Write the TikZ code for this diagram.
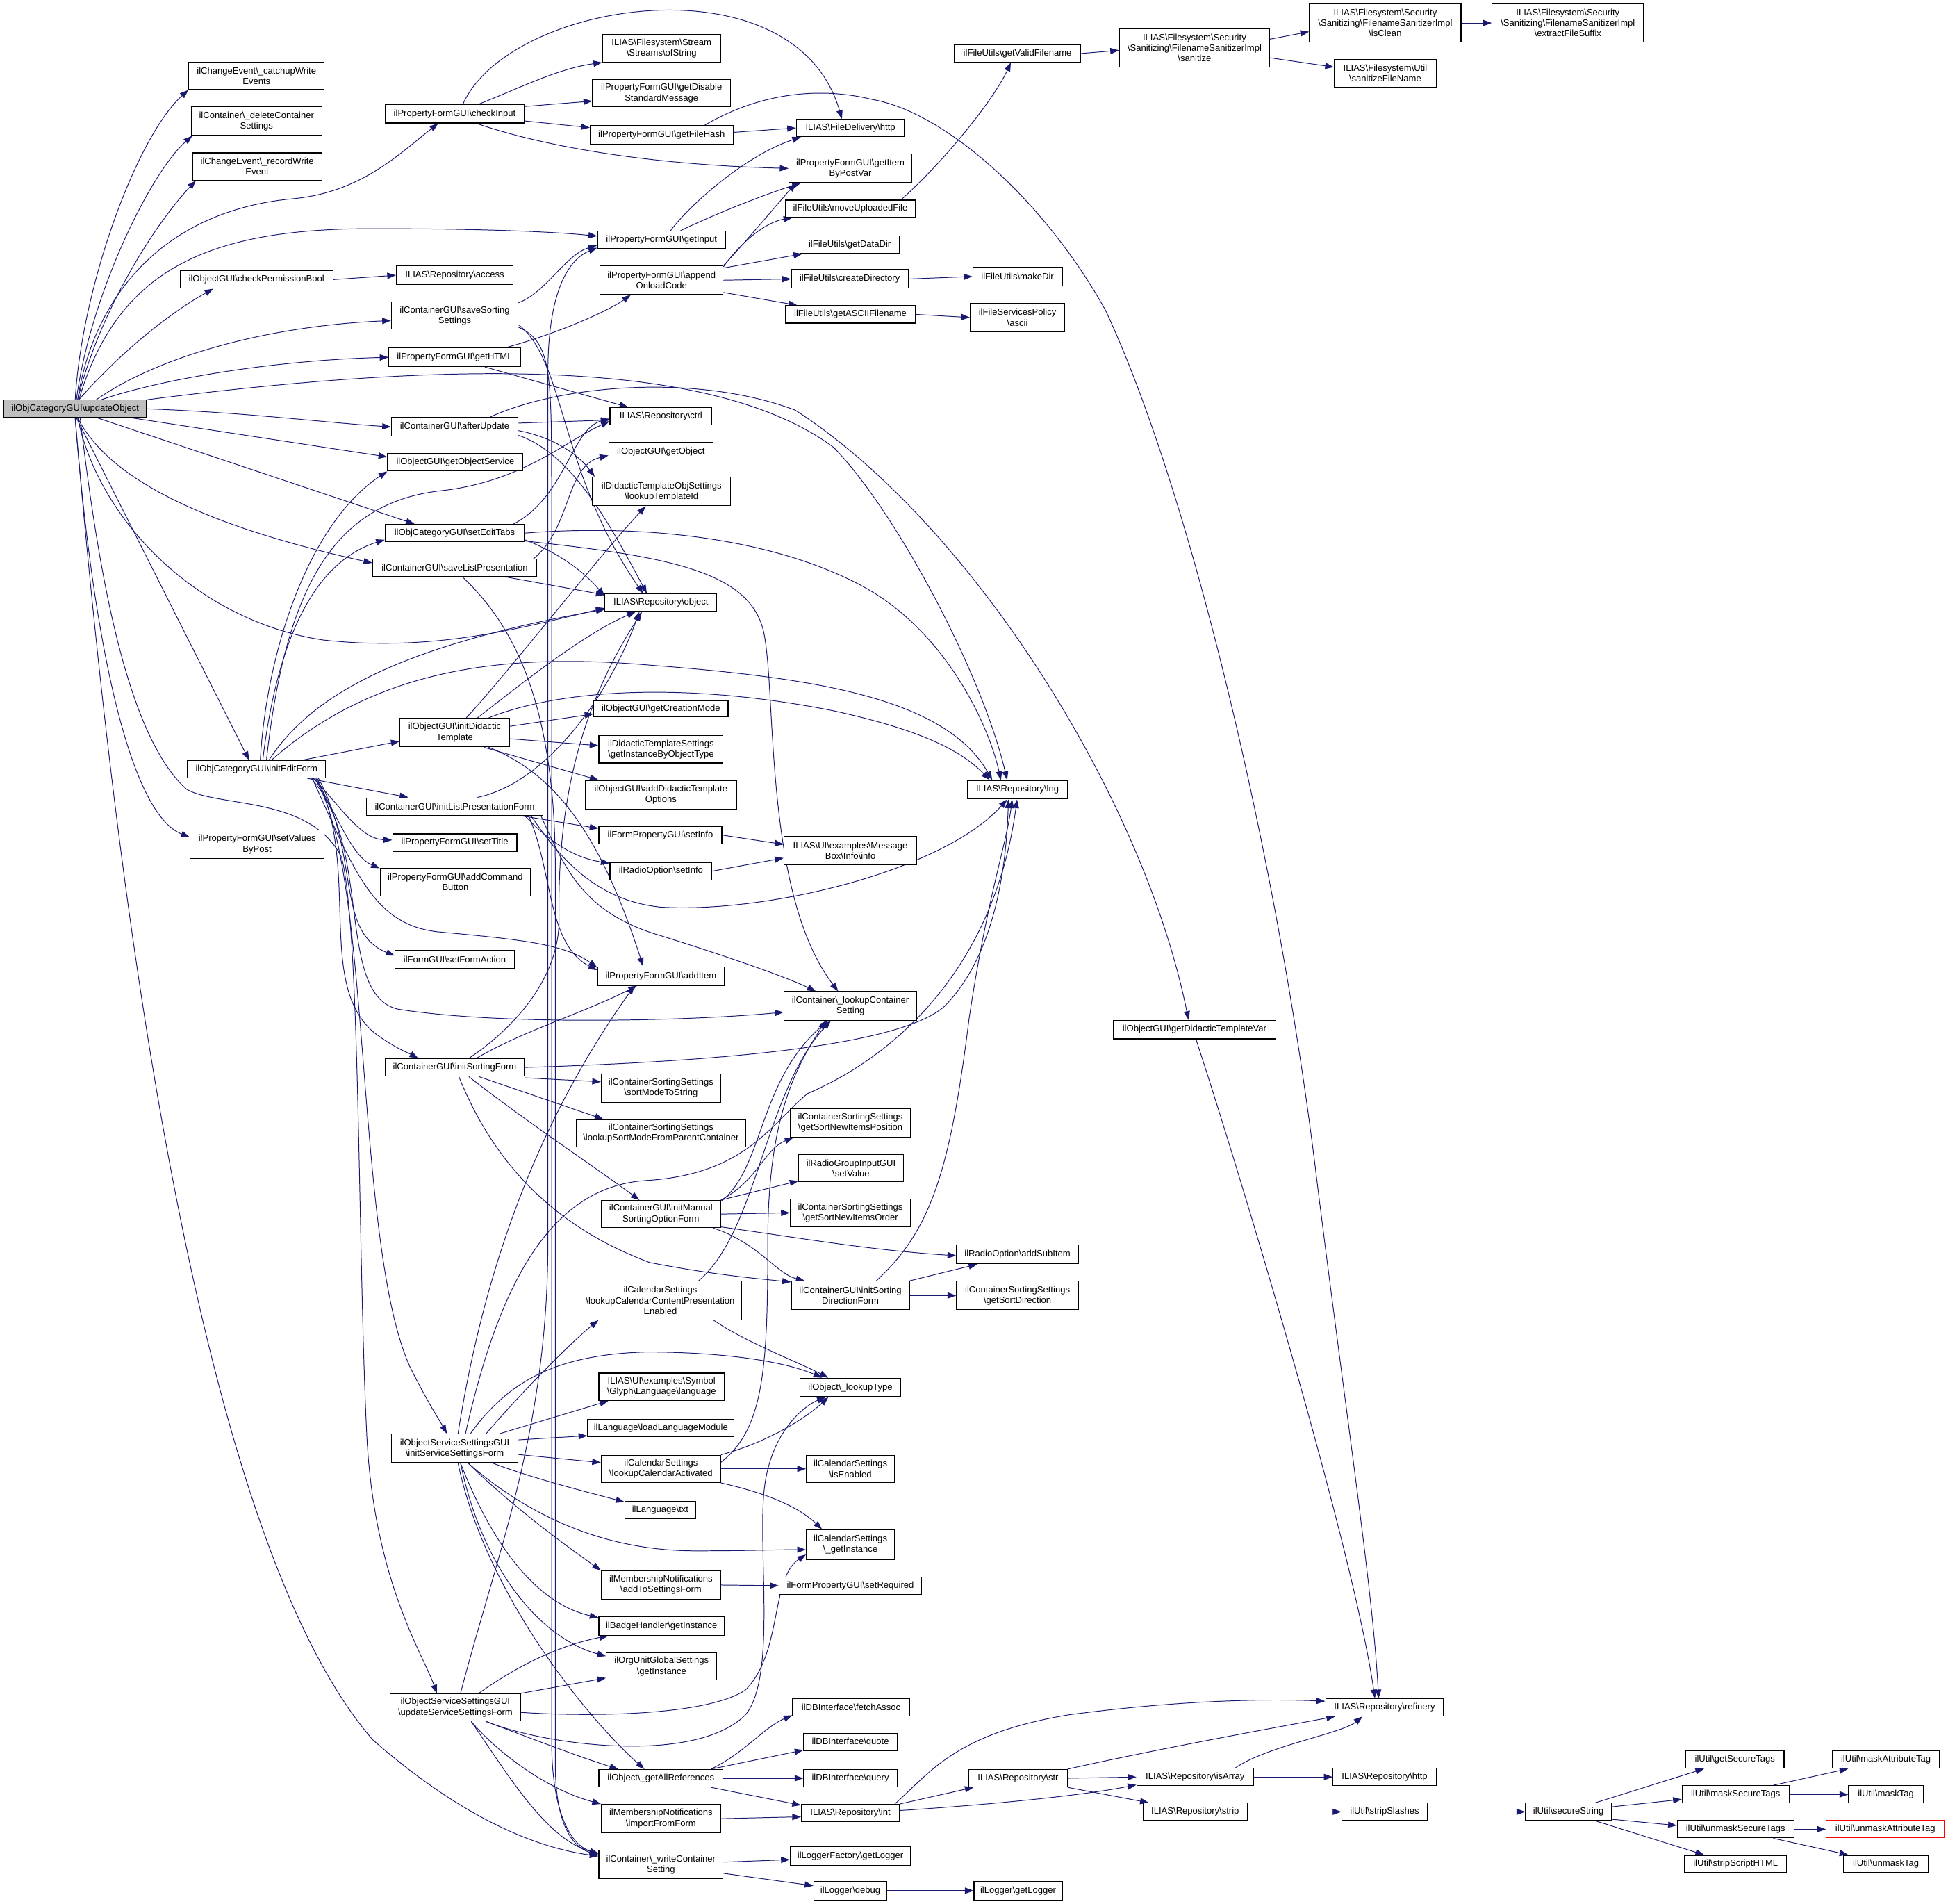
\documentclass[tikz,border=0pt]{standalone}
\usepackage{fontspec}
\setmainfont{Liberation Sans}
\usetikzlibrary{arrows.meta}
\definecolor{edgec}{RGB}{25,25,112}
\definecolor{rootfill}{RGB}{191,191,191}
\newcommand{\bs}{\textbackslash}
\newcommand{\bx}[7][]{\node[nb,#1,minimum width={(#5-#3)*1pt},minimum height={(#6-#4)*1pt}] (#2) at ({(#3+#5)/2},{(#4+#6)/2}) {#7};}
\pgfdeclarelayer{back}
\pgfdeclarelayer{bg}
\pgfsetlayers{back,bg,main}
\tikzset{
 nb/.style={draw=black,line width=0.65pt,fill=white,inner sep=0pt,align=center,font=\fontsize{7.3}{8.5}\selectfont},
 rootnode/.style={fill=rootfill},
 redb/.style={draw={rgb,255:red,255;green,0;blue,0}},
 e/.style={draw=edgec,line width=0.55pt,-{Triangle[length=7pt,width=5pt]}}
}
\begin{document}
\begin{tikzpicture}[x=1pt,y=-1pt]
\begin{pgfonlayer}{back}
\fill[white] (0,0) rectangle (1568,1532);
\end{pgfonlayer}
\useasboundingbox (0,0) rectangle (1568,1532);
% column 1-3
\bx[rootnode]{U}{3}{322}{118}{336}{ilObjCategoryGUI\bs updateObject}
\bx{catchup}{152}{50}{261}{72}{ilChangeEvent\bs\_catchupWrite\\Events}
\bx{deleteCS}{154}{86}{259}{109}{ilContainer\bs\_deleteContainer\\Settings}
\bx{recordWE}{155}{123}{259}{145}{ilChangeEvent\bs\_recordWrite\\Event}
\bx{checkPermBool}{145}{218}{268}{232}{ilObjectGUI\bs checkPermissionBool}
\bx{IEF}{151}{612}{262}{626}{ilObjCategoryGUI\bs initEditForm}
\bx{setValuesByPost}{153}{668}{261}{691}{ilPropertyFormGUI\bs setValues\\ByPost}
\bx{checkInput}{310}{84}{422}{99}{ilPropertyFormGUI\bs checkInput}
\bx{access}{319}{214}{413}{229}{ILIAS\bs Repository\bs access}
\bx{saveSorting}{315}{243}{417}{265}{ilContainerGUI\bs saveSorting\\Settings}
\bx{getHTML}{313}{280}{419}{295}{ilPropertyFormGUI\bs getHTML}
\bx{afterUpdate}{315}{336}{417}{351}{ilContainerGUI\bs afterUpdate}
\bx{getObjService}{312}{365}{421}{379}{ilObjectGUI\bs getObjectService}
\bx{setEditTabs}{310}{422}{422}{436}{ilObjCategoryGUI\bs setEditTabs}
\bx{saveListPres}{300}{450}{432}{464}{ilContainerGUI\bs saveListPresentation}
\bx{initDidactic}{322}{578}{410}{601}{ilObjectGUI\bs initDidactic\\Template}
\bx{ILPF}{295}{642}{437}{656}{ilContainerGUI\bs initListPresentationForm}
\bx{setTitle}{316}{671}{416}{685}{ilPropertyFormGUI\bs setTitle}
\bx{addCommandButton}{306}{699}{427}{721}{ilPropertyFormGUI\bs addCommand\\Button}
\bx{setFormAction}{318}{765}{414}{779}{ilFormGUI\bs setFormAction}
\bx{ISF}{310}{852}{422}{866}{ilContainerGUI\bs initSortingForm}
\bx{ISSF}{315}{1154}{417}{1177}{ilObjectServiceSettingsGUI\\\bs initServiceSettingsForm}
\bx{USSF}{314}{1363}{419}{1385}{ilObjectServiceSettingsGUI\\\bs updateServiceSettingsForm}
% column 4
\bx{ofString}{485}{28}{580}{50}{ILIAS\bs Filesystem\bs Stream\\\bs Streams\bs ofString}
\bx{getDisable}{477}{64}{588}{86}{ilPropertyFormGUI\bs getDisable\\StandardMessage}
\bx{getFileHash}{475}{101}{590}{116}{ilPropertyFormGUI\bs getFileHash}
\bx{getInput}{481}{186}{584}{200}{ilPropertyFormGUI\bs getInput}
\bx{appendOnload}{483}{214}{582}{237}{ilPropertyFormGUI\bs append\\OnloadCode}
\bx{ctrl}{491}{328}{573}{342}{ILIAS\bs Repository\bs ctrl}
\bx{getObject}{490}{356}{574}{371}{ilObjectGUI\bs getObject}
\bx{lookupTemplateId}{477}{384}{588}{407}{ilDidacticTemplateObjSettings\\\bs lookupTemplateId}
\bx{object}{487}{478}{577}{492}{ILIAS\bs Repository\bs object}
\bx{getCreationMode}{478}{564}{586}{577}{ilObjectGUI\bs getCreationMode}
\bx{getInstByType}{482}{592}{582}{614}{ilDidacticTemplateSettings\\\bs getInstanceByObjectType}
\bx{addDidOptions}{471}{628}{593}{651}{ilObjectGUI\bs addDidacticTemplate\\Options}
\bx{setInfoFP}{482}{665}{581}{679}{ilFormPropertyGUI\bs setInfo}
\bx{setInfoRO}{491}{694}{573}{708}{ilRadioOption\bs setInfo}
\bx{addItem}{481}{778}{583}{793}{ilPropertyFormGUI\bs addItem}
\bx{sortModeToString}{484}{864}{580}{887}{ilContainerSortingSettings\\\bs sortModeToString}
\bx{lookupSortMode}{464}{901}{600}{923}{ilContainerSortingSettings\\\bs lookupSortModeFromParentContainer}
\bx{IMSOF}{484}{966}{580}{988}{ilContainerGUI\bs initManual\\SortingOptionForm}
\bx{lookupCCPE}{466}{1031}{597}{1062}{ilCalendarSettings\\\bs lookupCalendarContentPresentation\\Enabled}
\bx{language}{482}{1105}{583}{1127}{ILIAS\bs UI\bs examples\bs Symbol\\\bs Glyph\bs Language\bs language}
\bx{loadLangMod}{473}{1142}{591}{1156}{ilLanguage\bs loadLanguageModule}
\bx{lookupCalAct}{484}{1171}{580}{1193}{ilCalendarSettings\\\bs lookupCalendarActivated}
\bx{txt}{503}{1208}{560}{1222}{ilLanguage\bs txt}
\bx{addToSettings}{484}{1264}{580}{1287}{ilMembershipNotifications\\\bs addToSettingsForm}
\bx{badge}{482}{1301}{583}{1316}{ilBadgeHandler\bs getInstance}
\bx{orgUnit}{488}{1330}{577}{1352}{ilOrgUnitGlobalSettings\\\bs getInstance}
\bx{getAllRefs}{482}{1424}{582}{1438}{ilObject\bs\_getAllReferences}
\bx{importFromForm}{484}{1452}{580}{1475}{ilMembershipNotifications\\\bs importFromForm}
\bx{writeCS}{482}{1489}{582}{1512}{ilContainer\bs\_writeContainer\\Setting}
% column 5
\bx{httpFD}{641}{96}{728}{110}{ILIAS\bs FileDelivery\bs http}
\bx{getItemByPostVar}{635}{124}{734}{147}{ilPropertyFormGUI\bs getItem\\ByPostVar}
\bx{moveUploaded}{632}{161}{737}{175}{ilFileUtils\bs moveUploadedFile}
\bx{getDataDir}{644}{190}{724}{204}{ilFileUtils\bs getDataDir}
\bx{createDirectory}{637}{217}{731}{232}{ilFileUtils\bs createDirectory}
\bx{getASCII}{632}{246}{737}{260}{ilFileUtils\bs getASCIIFilename}
\bx{info}{631}{673}{738}{696}{ILIAS\bs UI\bs examples\bs Message\\Box\bs Info\bs info}
\bx{lookupCS}{631}{798}{738}{821}{ilContainer\bs\_lookupContainer\\Setting}
\bx{getSortNewPos}{636}{892}{733}{915}{ilContainerSortingSettings\\\bs getSortNewItemsPosition}
\bx{setValue}{643}{929}{727}{951}{ilRadioGroupInputGUI\\\bs setValue}
\bx{getSortNewOrder}{636}{965}{733}{987}{ilContainerSortingSettings\\\bs getSortNewItemsOrder}
\bx{ISDF}{637}{1031}{732}{1054}{ilContainerGUI\bs initSorting\\DirectionForm}
\bx{lookupType}{644}{1109}{725}{1124}{ilObject\bs\_lookupType}
\bx{isEnabled}{649}{1171}{720}{1193}{ilCalendarSettings\\\bs isEnabled}
\bx{calGetInst}{649}{1231}{720}{1255}{ilCalendarSettings\\\bs\_getInstance}
\bx{setRequired}{627}{1269}{742}{1283}{ilFormPropertyGUI\bs setRequired}
\bx{fetchAssoc}{638}{1367}{732}{1381}{ilDBInterface\bs fetchAssoc}
\bx{quote}{647}{1395}{722}{1409}{ilDBInterface\bs quote}
\bx{query}{647}{1424}{722}{1438}{ilDBInterface\bs query}
\bx{int}{645}{1452}{724}{1466}{ILIAS\bs Repository\bs int}
\bx{loggerFactory}{636}{1486}{733}{1501}{ilLoggerFactory\bs getLogger}
\bx{debug}{655}{1514}{714}{1529}{ilLogger\bs debug}
% column 6+
\bx{getValidFilename}{768}{36}{870}{50}{ilFileUtils\bs getValidFilename}
\bx{makeDir}{783}{215}{855}{230}{ilFileUtils\bs makeDir}
\bx{ascii}{781}{244}{857}{267}{ilFileServicesPolicy\\\bs ascii}
\bx{lng}{779}{628}{859}{643}{ILIAS\bs Repository\bs lng}
\bx{addSubItem}{770}{1002}{868}{1017}{ilRadioOption\bs addSubItem}
\bx{getSortDir}{770}{1031}{868}{1054}{ilContainerSortingSettings\\\bs getSortDirection}
\bx{str}{780}{1424}{859}{1438}{ILIAS\bs Repository\bs str}
\bx{loggerGetLogger}{784}{1514}{855}{1529}{ilLogger\bs getLogger}
\bx{sanitize}{901}{23}{1022}{54}{ILIAS\bs Filesystem\bs Security\\\bs Sanitizing\bs FilenameSanitizerImpl\\\bs sanitize}
\bx{getDidVar}{896}{821}{1027}{836}{ilObjectGUI\bs getDidacticTemplateVar}
\bx{isArray}{915}{1423}{1009}{1437}{ILIAS\bs Repository\bs isArray}
\bx{strip}{920}{1451}{1004}{1465}{ILIAS\bs Repository\bs strip}
\bx{isClean}{1054}{3}{1176}{34}{ILIAS\bs Filesystem\bs Security\\\bs Sanitizing\bs FilenameSanitizerImpl\\\bs isClean}
\bx{sanitizeFileName}{1074}{48}{1156}{70}{ILIAS\bs Filesystem\bs Util\\\bs sanitizeFileName}
\bx{refinery}{1067}{1367}{1162}{1381}{ILIAS\bs Repository\bs refinery}
\bx{httpRepo}{1073}{1423}{1156}{1437}{ILIAS\bs Repository\bs http}
\bx{stripSlashes}{1080}{1451}{1149}{1465}{ilUtil\bs stripSlashes}
\bx{extractSuffix}{1201}{3}{1323}{34}{ILIAS\bs Filesystem\bs Security\\\bs Sanitizing\bs FilenameSanitizerImpl\\\bs extractFileSuffix}
\bx{secureString}{1228}{1451}{1297}{1465}{ilUtil\bs secureString}
\bx{getSecureTags}{1357}{1409}{1436}{1423}{ilUtil\bs getSecureTags}
\bx{maskSecureTags}{1354}{1437}{1440}{1451}{ilUtil\bs maskSecureTags}
\bx{unmaskSecureTags}{1350}{1465}{1444}{1479}{ilUtil\bs unmaskSecureTags}
\bx{stripScriptHTML}{1356}{1493}{1438}{1507}{ilUtil\bs stripScriptHTML}
\bx{maskAttributeTag}{1475}{1409}{1561}{1423}{ilUtil\bs maskAttributeTag}
\bx{maskTag}{1488}{1437}{1548}{1451}{ilUtil\bs maskTag}
\bx[redb]{unmaskAttributeTag}{1470}{1465}{1565}{1479}{ilUtil\bs unmaskAttributeTag}
\bx{unmaskTag}{1484}{1493}{1552}{1507}{ilUtil\bs unmaskTag}

\begin{pgfonlayer}{bg}
% updateObject
\draw[e] (U.north) .. controls (66,230) and (110,110) .. (catchup.south west);
\draw[e] ([xshift=1pt]U.north) .. controls (72,240) and (120,140) .. ([xshift=1pt]deleteCS.south west);
\draw[e] ([xshift=2pt]U.north) .. controls (80,250) and (125,180) .. ([xshift=3pt]recordWE.south west);
\draw[e] ([xshift=3pt]U.north) .. controls (100,280) and (140,250) .. ([xshift=27pt]checkPermBool.south west);
\draw[e] ([xshift=2pt]U.north) .. controls (75,240) and (130,170) .. (235,160) .. controls (290,155) and (320,125) .. ([xshift=43pt]checkInput.south west);
\draw[e] ([xshift=3pt]U.north) .. controls (95,215) and (170,184) .. (300,184) .. controls (380,184) and (440,186) .. ([yshift=3pt]getInput.west);
\draw[e] ([xshift=17pt]U.north) .. controls (130,285) and (220,262) .. ([yshift=-4pt]saveSorting.west);
\draw[e] ([xshift=21pt]U.north) .. controls (130,305) and (220,290) .. (getHTML.west);
\draw[e] (U.north east) .. controls (350,292) and (570,285) .. (671,360) .. controls (720,410) and (790,540) .. ([xshift=32pt]lng.north west);
\draw[e] (U.east) .. controls (200,332) and (260,340) .. (afterUpdate.west);
\draw[e] ([xshift=-12pt]U.south east) -- ([yshift=-3pt]getObjService.north west);
\draw[e] ([xshift=18pt]U.south) -- ([xshift=24pt]setEditTabs.north west);
\draw[e] ([xshift=2pt]U.south) .. controls (85,380) and (150,420) .. ([yshift=4pt]saveListPres.west);
\draw[e] ([xshift=2pt]U.south) .. controls (80,420) and (160,500) .. (260,515) .. controls (350,525) and (420,505) .. ([yshift=3pt]object.south west);
\draw[e] ([xshift=1pt]U.south) -- ([xshift=-6pt]IEF.north);
\draw[e] (U.south) .. controls (75,520) and (105,655) .. ([yshift=-6pt]setValuesByPost.north west);
\draw[e] ([xshift=4pt]U.south) .. controls (78,450) and (100,590) .. (150,635) .. controls (175,650) and (250,640) .. (275,690) .. controls (290,750) and (288,1000) .. (295,1150) .. controls (300,1270) and (340,1330) .. ([xshift=38pt]USSF.north west);
\draw[e] (U.south) .. controls (100,800) and (170,1250) .. (300,1400) .. controls (380,1470) and (440,1488) .. ([yshift=-5pt]writeCS.north west);
% checkPermissionBool
\draw[e] (checkPermBool.east) -- (access.west);
% checkInput
\draw[e] ([xshift=76pt]checkInput.north west) .. controls (420,70) and (450,55) .. (ofString.south west);
\draw[e] ([yshift=-2pt]checkInput.north east) -- ([yshift=5pt]getDisable.south west);
\draw[e] ([yshift=2pt]checkInput.south east) -- ([yshift=-2pt]getFileHash.north west);
\draw[e] ([xshift=63pt]checkInput.north west) .. controls (410,0) and (640,-35) .. ([xshift=37pt]httpFD.north west);
\draw[e] ([xshift=74pt]checkInput.south west) .. controls (420,112) and (500,132) .. (getItemByPostVar.west);
% getFileHash
\draw[e] ([yshift=2pt]getFileHash.east) -- (httpFD.west);
\draw[e] ([xshift=-23pt]getFileHash.north east) .. controls (620,70) and (670,72) .. (702,80) .. controls (760,90) and (840,160) .. (890,250) .. controls (960,400) and (1030,700) .. (1060,950) .. controls (1085,1150) and (1105,1280) .. ([xshift=43pt]refinery.north west);
% getInput
\draw[e] ([xshift=59pt]getInput.north west) .. controls (555,165) and (600,125) .. ([xshift=4pt]httpFD.south west);
\draw[e] ([xshift=67pt]getInput.north west) .. controls (580,170) and (620,155) .. ([xshift=10pt]getItemByPostVar.south west);
% appendOnloadCode
\draw[e] (appendOnload.north east) .. controls (600,195) and (625,165) .. ([xshift=6pt]getItemByPostVar.south west);
\draw[e] ([yshift=-1pt]appendOnload.north east) .. controls (600,190) and (620,178) .. ([xshift=6pt]moveUploaded.south west);
\draw[e] ([yshift=-2pt]appendOnload.north east) -- ([xshift=2pt]getDataDir.south west);
\draw[e] (appendOnload.east) -- (createDirectory.west);
\draw[e] ([yshift=2pt]appendOnload.south east) -- ([xshift=10pt]getASCII.north west);
\draw[e] ([xshift=-12pt]moveUploaded.north east) .. controls (760,130) and (800,80) .. ([xshift=46pt]getValidFilename.south west);
\draw[e] (getValidFilename.east) -- ([yshift=-2pt]sanitize.west);
\draw[e] ([yshift=7pt]sanitize.east) -- ([yshift=-7pt]isClean.west);
\draw[e] ([yshift=-8pt]sanitize.east) -- ([yshift=5pt]sanitizeFileName.west);
\draw[e] (isClean.east) -- (extractSuffix.west);
\draw[e] (createDirectory.east) -- (makeDir.west);
\draw[e] (getASCII.east) -- (ascii.west);
% saveSortingSettings
\draw[e] ([yshift=-1pt]saveSorting.north east) .. controls (440,235) and (455,205) .. ([yshift=3pt]getInput.south west);
\draw[e] ([yshift=4pt]saveSorting.south east) .. controls (455,290) and (450,380) .. ([xshift=31pt]object.north west);
\draw[e] ([yshift=2pt]saveSorting.south east) .. controls (444,275) and (444,300) .. (444,400) -- (444,1400) .. controls (444,1460) and (460,1485) .. ([yshift=-3pt]writeCS.north west);
% getHTML
\draw[e] ([xshift=-12pt]getHTML.north east) .. controls (450,268) and (490,250) .. ([xshift=25pt]appendOnload.south west);
\draw[e] ([xshift=-29pt]getHTML.south east) -- ([xshift=15pt]ctrl.north west);
% afterUpdate
\draw[e] ([yshift=3pt]afterUpdate.east) -- ([yshift=-3pt]ctrl.west);
\draw[e] ([yshift=-3pt]afterUpdate.east) .. controls (445,352) and (465,365) .. ([xshift=2pt]lookupTemplateId.north west);
\draw[e] ([yshift=1pt]afterUpdate.south east) .. controls (460,365) and (490,420) .. ([xshift=34pt]object.north west);
\draw[e] ([xshift=-23pt]afterUpdate.north east) .. controls (450,310) and (560,300) .. (640,330) .. controls (780,420) and (920,640) .. ([xshift=61pt]getDidVar.north west);
% setEditTabs
\draw[e] ([xshift=-9pt]setEditTabs.north east) .. controls (455,400) and (460,345) .. ([yshift=-2pt]ctrl.west);
\draw[e] (setEditTabs.east) .. controls (540,420) and (640,440) .. (700,475) .. controls (760,510) and (795,580) .. ([xshift=27pt]lng.north west);
\draw[e] ([yshift=1pt]setEditTabs.south east) .. controls (540,448) and (605,460) .. (615,510) .. controls (625,560) and (615,720) .. ([xshift=44pt]lookupCS.north west);
\draw[e] ([yshift=2pt]setEditTabs.south east) .. controls (450,445) and (470,460) .. ([yshift=-2pt]object.north west);
% saveListPresentation
\draw[e] ([xshift=-3pt]saveListPres.north east) .. controls (460,425) and (455,375) .. ([yshift=-3pt]getObject.west);
\draw[e] ([xshift=-25pt]saveListPres.south east) -- ([yshift=-1pt]object.north west);
\draw[e] ([xshift=-60pt]saveListPres.south east) .. controls (410,500) and (447,560) .. (447,700) -- (447,1420) .. controls (447,1470) and (462,1487) .. ([yshift=-4pt]writeCS.north west);
% initEditForm
\draw[e] ([xshift=3pt]IEF.north) .. controls (215,520) and (250,420) .. (getObjService.south west);
\draw[e] ([xshift=5pt]IEF.north) .. controls (225,500) and (260,450) .. ([yshift=2pt]setEditTabs.south west);
\draw[e] ([xshift=8pt]IEF.north) .. controls (230,470) and (270,405) .. (354,395) .. controls (420,388) and (455,355) .. ([yshift=-4pt]ctrl.west);
\draw[e] ([xshift=10pt]IEF.north) .. controls (250,560) and (320,520) .. ([yshift=2pt]object.south west);
\draw[e] ([xshift=12pt]IEF.north) .. controls (300,540) and (400,525) .. (520,535) .. controls (650,545) and (760,560) .. ([xshift=20pt]lng.north west);
\draw[e] ([xshift=-19pt]IEF.north east) -- ([yshift=-7pt]initDidactic.west);
\draw[e] ([xshift=-15pt]IEF.south east) -- ([xshift=34pt]ILPF.north west);
\draw[e] ([xshift=-10pt]IEF.south east) .. controls (275,650) and (290,675) .. ([yshift=2pt]setTitle.west);
\draw[e] ([xshift=-8pt]IEF.south east) .. controls (275,665) and (285,690) .. (addCommandButton.north west);
\draw[e] ([xshift=-6pt]IEF.south east) .. controls (290,690) and (270,750) .. ([yshift=3pt]setFormAction.west);
\draw[e] ([xshift=-11pt]IEF.south east) .. controls (285,700) and (300,745) .. (354,750) .. controls (420,756) and (455,760) .. ([yshift=-1pt]addItem.north west);
\draw[e] ([xshift=-12pt]IEF.south east) .. controls (300,680) and (270,800) .. (320,812) .. controls (400,825) and (550,822) .. ([yshift=-5pt]lookupCS.west);
\draw[e] ([xshift=-7pt]IEF.south east) .. controls (290,700) and (255,790) .. (300,830) .. controls (315,842) and (330,848) .. ([xshift=27pt]ISF.north west);
\draw[e] ([xshift=-9pt]IEF.south east) .. controls (300,700) and (285,1000) .. (330,1100) .. controls (345,1130) and (355,1145) .. ([xshift=45pt]ISSF.north west);
% initDidacticTemplate
\draw[e] ([xshift=-35pt]initDidactic.north east) .. controls (410,540) and (480,450) .. ([xshift=43pt]lookupTemplateId.south west);
\draw[e] ([xshift=-26pt]initDidactic.north east) .. controls (420,550) and (470,510) .. ([xshift=25pt]object.south west);
\draw[e] ([xshift=-17pt]initDidactic.north east) .. controls (450,555) and (550,548) .. (671,572) .. controls (730,585) and (770,600) .. ([xshift=18pt]lng.north west);
\draw[e] ([yshift=5pt]initDidactic.east) -- ([yshift=-4pt]getCreationMode.west);
\draw[e] ([yshift=-5pt]initDidactic.east) -- ([yshift=3pt]getInstByType.west);
\draw[e] ([xshift=-21pt]initDidactic.south east) -- ([xshift=11pt]addDidOptions.north west);
\draw[e] ([xshift=-17pt]initDidactic.south east) .. controls (440,620) and (480,660) .. ([xshift=37pt]addItem.north west);
% initListPresentationForm
\draw[e] ([xshift=-53pt]ILPF.north east) .. controls (440,630) and (490,560) .. ([xshift=28pt]object.south west);
\draw[e] ([xshift=-19pt]ILPF.south east) -- ([yshift=-2pt]setInfoFP.north west);
\draw[e] ([xshift=-15pt]ILPF.south east) .. controls (440,675) and (460,690) .. ([yshift=-1pt]setInfoRO.north west);
\draw[e] ([xshift=-12pt]ILPF.south east) .. controls (445,700) and (440,760) .. ([yshift=-3pt]addItem.north west);
\draw[e] ([xshift=-10pt]ILPF.south east) .. controls (450,690) and (480,725) .. (532,730) .. controls (620,735) and (760,700) .. ([xshift=32pt]lng.south west);
\draw[e] ([xshift=-2pt]ILPF.south east) .. controls (455,700) and (470,735) .. (532,753) .. controls (580,768) and (630,785) .. ([xshift=26pt]lookupCS.north west);
\draw[e] (setInfoFP.east) -- ([yshift=5pt]info.west);
\draw[e] (setInfoRO.east) -- ([yshift=-6pt]info.west);
\draw[e] ([xshift=67pt]getDidVar.south west) .. controls (1000,950) and (1090,1250) .. ([xshift=40pt]refinery.north west);
% initSortingForm
\draw[e] ([xshift=-45pt]ISF.north east) .. controls (410,830) and (450,790) .. (450,740) .. controls (448,620) and (480,550) .. ([xshift=30pt]object.south west);
\draw[e] ([xshift=-39pt]ISF.north east) .. controls (420,830) and (470,815) .. ([xshift=32pt]addItem.south west);
\draw[e] (ISF.east) .. controls (550,855) and (720,845) .. (760,810) .. controls (800,770) and (810,700) .. ([xshift=33pt]lng.south west);
\draw[e] ([yshift=-1pt]ISF.south east) -- ([yshift=5pt]sortModeToString.west);
\draw[e] ([xshift=-37pt]ISF.south east) -- ([xshift=22pt]lookupSortMode.north west);
\draw[e] ([xshift=-45pt]ISF.south east) .. controls (420,900) and (480,940) .. ([xshift=31pt]IMSOF.north west);
\draw[e] ([xshift=-53pt]ISF.south east) .. controls (395,930) and (440,985) .. (523,1016) .. controls (570,1025) and (600,1028) .. ([yshift=-1pt]ISDF.north west);
% initManualSortingOptionForm
\draw[e] ([yshift=-1pt]IMSOF.north east) .. controls (615,940) and (610,870) .. ([xshift=36pt]lookupCS.south west);
\draw[e] (IMSOF.north east) .. controls (610,950) and (615,925) .. ([xshift=3pt]getSortNewPos.south west);
\draw[e] (IMSOF.north east) -- ([yshift=1pt]setValue.south west);
\draw[e] (IMSOF.east) -- (getSortNewOrder.west);
\draw[e] ([yshift=1pt]IMSOF.south east) .. controls (650,997) and (700,1006) .. ([yshift=-1pt]addSubItem.west);
\draw[e] ([xshift=-6pt]IMSOF.south east) .. controls (610,1000) and (625,1025) .. ([xshift=11pt]ISDF.north west);
% initSortingDirectionForm
\draw[e] (ISDF.north east) -- ([xshift=17pt]addSubItem.south west);
\draw[e] (ISDF.east) -- (getSortDir.west);
\draw[e] ([xshift=-27pt]ISDF.north east) .. controls (750,990) and (765,940) .. (780,820) .. controls (795,720) and (810,680) .. ([xshift=36pt]lng.south west);
% lookupCalendarContentPresentationEnabled
\draw[e] ([xshift=-35pt]lookupCCPE.north east) .. controls (610,990) and (615,880) .. ([xshift=38pt]lookupCS.south west);
\draw[e] ([xshift=-23pt]lookupCCPE.south east) .. controls (600,1080) and (640,1095) .. ([xshift=23pt]lookupType.north west);
% initServiceSettingsForm
\draw[e] ([xshift=54pt]ISSF.north west) .. controls (385,1050) and (420,920) .. ([xshift=30pt]addItem.south west);
\draw[e] ([xshift=60pt]ISSF.north west) .. controls (400,1040) and (440,955) .. (520,950) .. controls (600,945) and (620,905) .. (650,880) .. controls (720,850) and (800,780) .. ([xshift=40pt]lng.south west);
\draw[e] ([xshift=-26pt]ISSF.north east) .. controls (420,1120) and (460,1080) .. ([xshift=16pt]lookupCCPE.south west);
\draw[e] ([xshift=64pt]ISSF.north west) .. controls (410,1110) and (450,1090) .. (520,1088) .. controls (580,1088) and (630,1095) .. ([xshift=18pt]lookupType.north west);
\draw[e] ([xshift=-15pt]ISSF.north east) -- ([xshift=8pt]language.south west);
\draw[e] ([yshift=-5pt]ISSF.north east) -- ([yshift=1pt]loadLangMod.south west);
\draw[e] ([yshift=-5pt]ISSF.east) -- ([yshift=5pt]lookupCalAct.west);
\draw[e] ([xshift=-21pt]ISSF.south east) .. controls (430,1190) and (470,1200) .. ([yshift=-1pt]txt.north west);
\draw[e] ([xshift=62pt]ISSF.south west) .. controls (420,1215) and (480,1248) .. (560,1248) .. controls (600,1248) and (630,1247) .. ([yshift=-4pt]calGetInst.west);
\draw[e] ([xshift=62pt]ISSF.south west) .. controls (410,1210) and (450,1240) .. (addToSettings.north west);
\draw[e] ([xshift=56pt]ISSF.south west) .. controls (395,1240) and (430,1290) .. ([yshift=-1pt]badge.north west);
\draw[e] ([xshift=56pt]ISSF.south west) .. controls (390,1270) and (440,1320) .. ([yshift=-3pt]orgUnit.north west);
\draw[e] ([xshift=54pt]ISSF.south west) .. controls (390,1280) and (470,1380) .. ([xshift=37pt]getAllRefs.north west);
% lookupCalendarActivated
\draw[e] ([yshift=-6pt]lookupCalAct.north east) .. controls (615,1150) and (618,1100) .. (618,1000) .. controls (618,900) and (640,860) .. ([xshift=34pt]lookupCS.south west);
\draw[e] (lookupCalAct.north east) .. controls (620,1160) and (650,1140) .. ([xshift=23pt]lookupType.south west);
\draw[e] (lookupCalAct.east) -- (isEnabled.west);
\draw[e] (lookupCalAct.south east) .. controls (610,1200) and (640,1210) .. ([xshift=13pt]calGetInst.north west);
\draw[e] (addToSettings.east) -- (setRequired.west);
% updateServiceSettingsForm
\draw[e] ([xshift=57pt]USSF.north west) .. controls (400,1250) and (441,1150) .. (441,1000) -- (441,300) .. controls (441,240) and (455,210) .. ([yshift=1pt]getInput.south west);
\draw[e] ([xshift=-34pt]USSF.north east) .. controls (410,1345) and (445,1325) .. ([xshift=8pt]badge.south west);
\draw[e] (USSF.north east) -- ([yshift=2pt]orgUnit.south west);
\draw[e] ([yshift=-4pt]USSF.east) .. controls (480,1382) and (570,1380) .. (600,1360) .. controls (630,1330) and (620,1270) .. ([yshift=-8pt]calGetInst.west);
\draw[e] ([xshift=-28pt]USSF.south east) .. controls (440,1405) and (560,1420) .. (600,1380) .. controls (625,1350) and (610,1250) .. (615,1200) .. controls (620,1150) and (650,1130) .. ([xshift=21pt]lookupType.south west);
\draw[e] ([xshift=-28pt]USSF.south east) .. controls (430,1400) and (470,1415) .. ([xshift=16pt]getAllRefs.north west);
\draw[e] ([xshift=-40pt]USSF.south east) .. controls (400,1410) and (440,1440) .. (importFromForm.north west);
\draw[e] ([xshift=-40pt]USSF.south east) .. controls (410,1430) and (440,1480) .. ([yshift=-3pt]writeCS.north west);
% getAllReferences etc.
\draw[e] ([xshift=-10pt]getAllRefs.north east) .. controls (600,1410) and (615,1390) .. ([yshift=1pt]fetchAssoc.south west);
\draw[e] ([xshift=-10pt]getAllRefs.north east) -- ([yshift=1pt]quote.south west);
\draw[e] (getAllRefs.east) -- (query.west);
\draw[e] ([xshift=-10pt]getAllRefs.south east) -- ([yshift=-1pt]int.north west);
\draw[e] (importFromForm.east) -- ([yshift=-3pt]int.west);
\draw[e] ([yshift=2pt]writeCS.east) -- ([yshift=-3pt]loggerFactory.west);
\draw[e] ([yshift=-7pt]writeCS.east) -- ([yshift=4pt]debug.west);
\draw[e] (debug.east) -- (loggerGetLogger.west);
% Repository int / str
\draw[e] (int.north east) -- ([xshift=4pt]str.south west);
\draw[e] ([yshift=2pt]int.east) .. controls (800,1452) and (870,1445) .. ([yshift=1pt]isArray.south west);
\draw[e] ([xshift=-4pt]int.north east) .. controls (750,1425) and (770,1395) .. (860,1380) .. controls (950,1368) and (1020,1367) .. ([yshift=5pt]refinery.west);
\draw[e] (str.north east) .. controls (920,1410) and (1000,1395) .. ([xshift=8pt]refinery.south west);
\draw[e] (str.east) -- (isArray.west);
\draw[e] (str.south east) -- ([xshift=5pt]strip.north west);
\draw[e] ([xshift=-15pt]isArray.north east) .. controls (1020,1405) and (1080,1395) .. ([xshift=30pt]refinery.south west);
\draw[e] (isArray.east) -- (httpRepo.west);
\draw[e] (strip.east) -- (stripSlashes.west);
\draw[e] (stripSlashes.east) -- (secureString.west);
\draw[e] ([xshift=-13pt]secureString.north east) -- ([xshift=15pt]getSecureTags.south west);
\draw[e] ([yshift=4pt]secureString.east) -- ([yshift=-4pt]maskSecureTags.west);
\draw[e] ([yshift=-6pt]secureString.east) -- ([yshift=3pt]unmaskSecureTags.west);
\draw[e] ([xshift=-13pt]secureString.south east) -- ([xshift=16pt]stripScriptHTML.north west);
\draw[e] ([xshift=-13pt]maskSecureTags.north east) -- ([xshift=13pt]maskAttributeTag.south west);
\draw[e] (maskSecureTags.east) -- (maskTag.west);
\draw[e] (unmaskSecureTags.east) -- (unmaskAttributeTag.west);
\draw[e] ([xshift=-17pt]unmaskSecureTags.south east) -- ([xshift=4pt]unmaskTag.north west);
\end{pgfonlayer}
\end{tikzpicture}
\end{document}
